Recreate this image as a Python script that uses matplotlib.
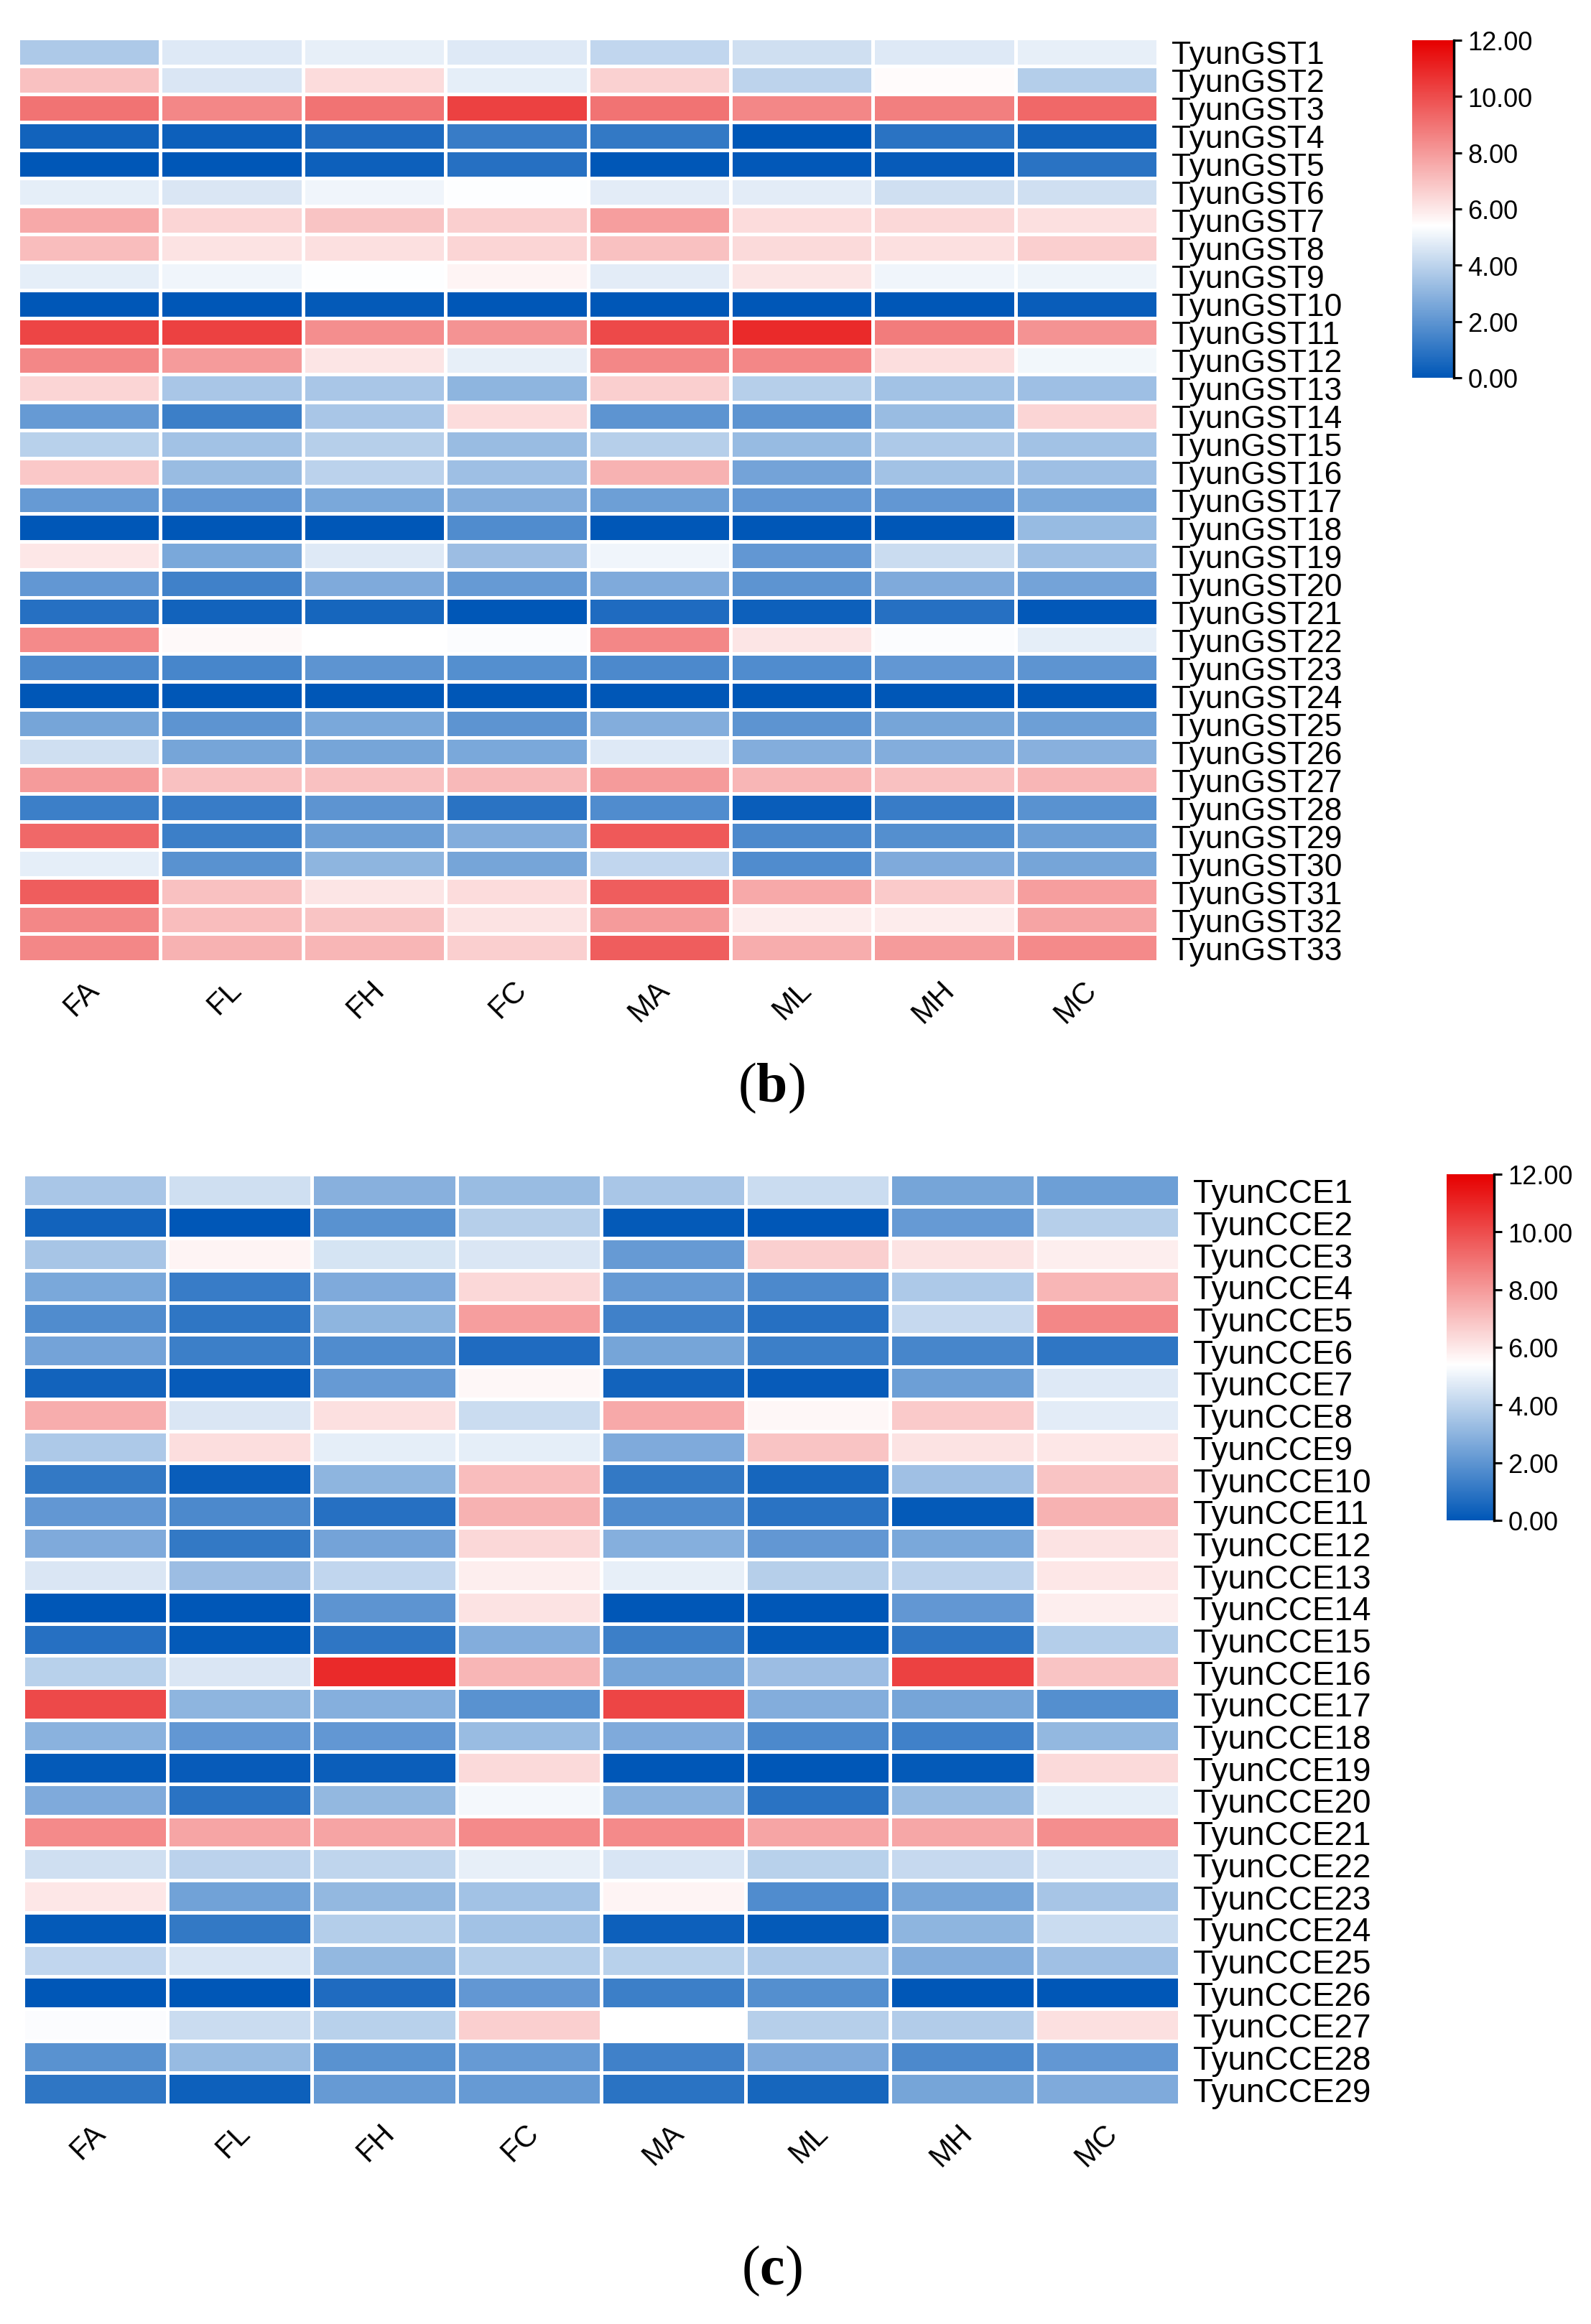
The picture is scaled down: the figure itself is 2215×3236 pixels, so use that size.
import numpy as np
import matplotlib
matplotlib.use("Agg")
import matplotlib.pyplot as plt
from matplotlib.colors import LinearSegmentedColormap, Normalize
from matplotlib.transforms import ScaledTranslation

plt.rcParams['font.family'] = ['Liberation Sans', 'DejaVu Sans']
plt.rcParams['mathtext.fontset'] = 'custom'
plt.rcParams['mathtext.rm'] = 'Liberation Serif'
plt.rcParams['mathtext.bf'] = 'Liberation Serif:bold'

# sample columns
samples = ["FA", "FL", "FH", "FC", "MA", "ML", "MH", "MC"]

# panel (b): GST genes
gst_genes = [f"TyunGST{i}" for i in range(1, 34)]
gst_values = [
    [3.7, 4.7, 4.9, 4.7, 4.1, 4.4, 4.7, 4.9],
    [7.0, 4.6, 6.3, 4.85, 6.6, 4.0, 5.5, 3.8],
    [9.0, 8.5, 9.0, 10.3, 9.0, 8.5, 8.7, 9.3],
    [0.4, 0.3, 0.7, 1.2, 1.1, 0.0, 0.9, 0.4],
    [0.0, 0.0, 0.3, 0.8, 0.0, 0.05, 0.15, 0.9],
    [4.85, 4.6, 5.1, 5.35, 4.8, 4.8, 4.4, 4.4],
    [7.6, 6.5, 6.9, 6.65, 7.9, 6.3, 6.4, 6.2],
    [7.1, 6.1, 6.2, 6.5, 7.0, 6.35, 6.2, 6.65],
    [4.85, 5.1, 5.35, 5.7, 4.8, 6.05, 5.1, 5.05],
    [0.0, 0.0, 0.1, 0.0, 0.0, 0.0, 0.0, 0.2],
    [10.2, 10.3, 8.3, 8.2, 10.1, 10.9, 8.8, 8.2],
    [8.5, 8.0, 6.05, 4.9, 8.5, 8.5, 6.25, 5.15],
    [6.5, 3.6, 3.6, 3.0, 6.65, 3.85, 3.45, 3.35],
    [2.2, 1.3, 3.6, 6.3, 2.0, 2.0, 3.25, 6.5],
    [3.9, 3.45, 3.85, 3.25, 3.85, 3.2, 3.7, 3.45],
    [6.8, 3.25, 3.95, 3.35, 7.4, 2.45, 3.45, 3.35],
    [2.2, 2.1, 2.6, 2.8, 2.3, 2.1, 2.1, 2.6],
    [0.0, 0.0, 0.0, 1.7, 0.0, 0.0, 0.0, 3.2],
    [6.0, 2.6, 4.7, 3.3, 5.1, 2.1, 4.3, 3.35],
    [2.1, 1.4, 2.7, 2.2, 2.7, 2.0, 2.7, 2.45],
    [0.8, 0.4, 0.5, 0.0, 0.7, 0.3, 0.8, 0.05],
    [8.4, 5.55, 5.4, 5.3, 8.5, 6.05, 5.3, 4.85],
    [1.6, 1.5, 2.0, 1.8, 1.6, 1.7, 2.1, 2.0],
    [0.0, 0.0, 0.0, 0.0, 0.0, 0.0, 0.0, 0.0],
    [2.5, 2.0, 2.6, 2.0, 2.8, 2.0, 2.5, 2.3],
    [4.4, 2.5, 2.5, 2.6, 4.7, 2.8, 2.8, 2.9],
    [8.0, 7.0, 7.0, 7.2, 8.0, 7.3, 7.0, 7.3],
    [1.3, 1.2, 2.0, 0.9, 1.7, 0.2, 1.2, 1.9],
    [9.3, 1.3, 2.3, 2.8, 9.7, 1.6, 1.8, 2.3],
    [4.85, 1.9, 3.0, 2.5, 4.1, 1.7, 2.7, 2.5],
    [9.6, 7.0, 6.05, 6.3, 9.6, 7.6, 6.75, 7.9],
    [8.5, 7.1, 6.9, 6.1, 8.0, 5.9, 5.9, 7.75],
    [8.5, 7.4, 7.3, 6.65, 9.6, 7.5, 8.0, 8.4],
]

# panel (c): CCE genes
cce_genes = [f"TyunCCE{i}" for i in range(1, 30)]
cce_values = [
    [3.6, 4.4, 2.9, 3.25, 3.6, 4.3, 2.5, 2.3],
    [0.4, 0.0, 1.9, 3.85, 0.1, 0.0, 2.2, 3.85],
    [3.55, 5.7, 4.5, 4.6, 2.2, 6.65, 6.1, 5.85],
    [2.6, 1.2, 2.7, 6.4, 2.2, 1.6, 3.7, 7.3],
    [1.7, 1.0, 3.0, 7.9, 1.4, 0.8, 4.2, 8.5],
    [2.45, 1.3, 1.7, 0.7, 2.5, 1.3, 1.5, 1.0],
    [0.4, 0.15, 2.2, 5.6, 0.4, 0.15, 2.3, 4.7],
    [7.5, 4.6, 6.2, 4.3, 7.6, 5.6, 6.75, 4.8],
    [3.7, 6.25, 4.85, 4.85, 2.7, 6.9, 6.1, 6.0],
    [1.1, 0.2, 3.0, 7.1, 1.1, 0.5, 3.4, 6.9],
    [2.1, 1.6, 0.8, 7.4, 1.7, 0.9, 0.1, 7.4],
    [2.7, 1.1, 2.45, 6.4, 2.85, 2.1, 2.6, 6.1],
    [4.6, 3.3, 4.1, 5.85, 4.9, 3.85, 3.95, 6.0],
    [0.0, 0.0, 2.0, 6.1, 0.0, 0.0, 2.1, 5.85],
    [0.8, 0.1, 1.0, 2.8, 1.3, 0.1, 1.0, 3.8],
    [3.9, 4.6, 10.9, 7.3, 2.5, 3.3, 10.3, 6.9],
    [10.1, 3.0, 2.85, 1.9, 10.2, 2.8, 2.5, 1.8],
    [2.95, 2.1, 2.1, 3.25, 2.7, 1.6, 1.4, 3.1],
    [0.1, 0.15, 0.25, 6.35, 0.0, 0.0, 0.1, 6.35],
    [2.7, 0.9, 3.1, 5.2, 2.95, 0.9, 3.25, 4.85],
    [8.4, 7.7, 7.75, 8.4, 8.4, 7.7, 7.65, 8.3],
    [4.4, 3.95, 4.05, 4.9, 4.55, 3.9, 4.2, 4.55],
    [6.0, 2.4, 3.1, 3.45, 5.7, 1.7, 2.5, 3.55],
    [0.1, 1.1, 3.8, 3.45, 0.3, 0.1, 3.0, 4.3],
    [4.1, 4.55, 3.1, 3.8, 3.9, 3.7, 2.8, 3.4],
    [0.0, 0.0, 0.7, 2.1, 1.3, 1.8, 0.0, 0.0],
    [5.3, 4.3, 3.9, 6.65, 5.4, 3.85, 3.75, 6.2],
    [1.9, 3.2, 1.9, 2.2, 1.4, 2.7, 1.6, 2.1],
    [1.0, 0.3, 2.2, 2.2, 0.9, 0.5, 2.5, 2.7],
]

cbar_ticks = [0, 2, 4, 6, 8, 10, 12]

cmap = LinearSegmentedColormap.from_list(
    "tb_bwr", [(0.0, "#0057B7"), (0.45, "#FFFFFF"), (1.0, "#E60000")])
norm = Normalize(vmin=0, vmax=12)

W, H = 2215, 3237
fig = plt.figure(figsize=(W / 100, H / 100), dpi=100)


def frac(x0, y0, x1, y1):
    # pixel box -> figure fraction rect
    return [x0 / W, 1 - y1 / H, (x1 - x0) / W, (y1 - y0) / H]


def draw_panel(hm_box, cb_box, genes, values, row_fs, tag, tag_y):
    ax = fig.add_axes(frac(*hm_box))
    data = np.array(values)
    ax.pcolormesh(data, cmap=cmap, norm=norm, edgecolors="white", linewidth=2.2)
    ax.set_xlim(0, data.shape[1])
    ax.set_ylim(data.shape[0], 0)
    for s in ax.spines.values():
        s.set_visible(False)

    ax.yaxis.tick_right()
    ax.set_yticks(np.arange(len(genes)) + 0.5)
    ax.set_yticklabels(genes, fontsize=row_fs)
    ax.tick_params(axis="y", length=0, pad=14)

    ax.set_xticks(np.arange(len(samples)) + 0.5)
    ax.set_xticklabels(samples, fontsize=30, rotation=45, ha="right", va="top")
    ax.tick_params(axis="x", length=0, pad=13)
    shift = ScaledTranslation(22 / 100, 0, fig.dpi_scale_trans)
    for lab in ax.get_xticklabels():
        lab.set_transform(lab.get_transform() + shift)

    cax = fig.add_axes(frac(*cb_box))
    cb = fig.colorbar(plt.cm.ScalarMappable(norm=norm, cmap=cmap), cax=cax)
    cb.outline.set_visible(False)
    cb.set_ticks(cbar_ticks)
    cb.set_ticklabels([f"{t:.2f}" for t in cbar_ticks])
    cax.tick_params(labelsize=26, length=8, width=2.2, pad=6)
    cax.plot([1, 1], [0, 1], transform=cax.transAxes, color="black",
             lw=2.5, clip_on=False)

    fig.text(1074 / W, 1 - tag_y / H, r"($\mathbf{" + tag + r"}$)",
             family=["Liberation Serif", "DejaVu Serif"], fontsize=56,
             ha="center", va="center")


draw_panel((25, 54, 1612, 1340), (1966, 57, 2024, 527),
           gst_genes, gst_values, 32, "b", 1515)
draw_panel((32, 1636, 1642, 2932), (2014, 1636, 2080, 2118),
           cce_genes, cce_values, 33, "c", 3162)

fig.savefig("out.png", dpi=100, facecolor="white")
